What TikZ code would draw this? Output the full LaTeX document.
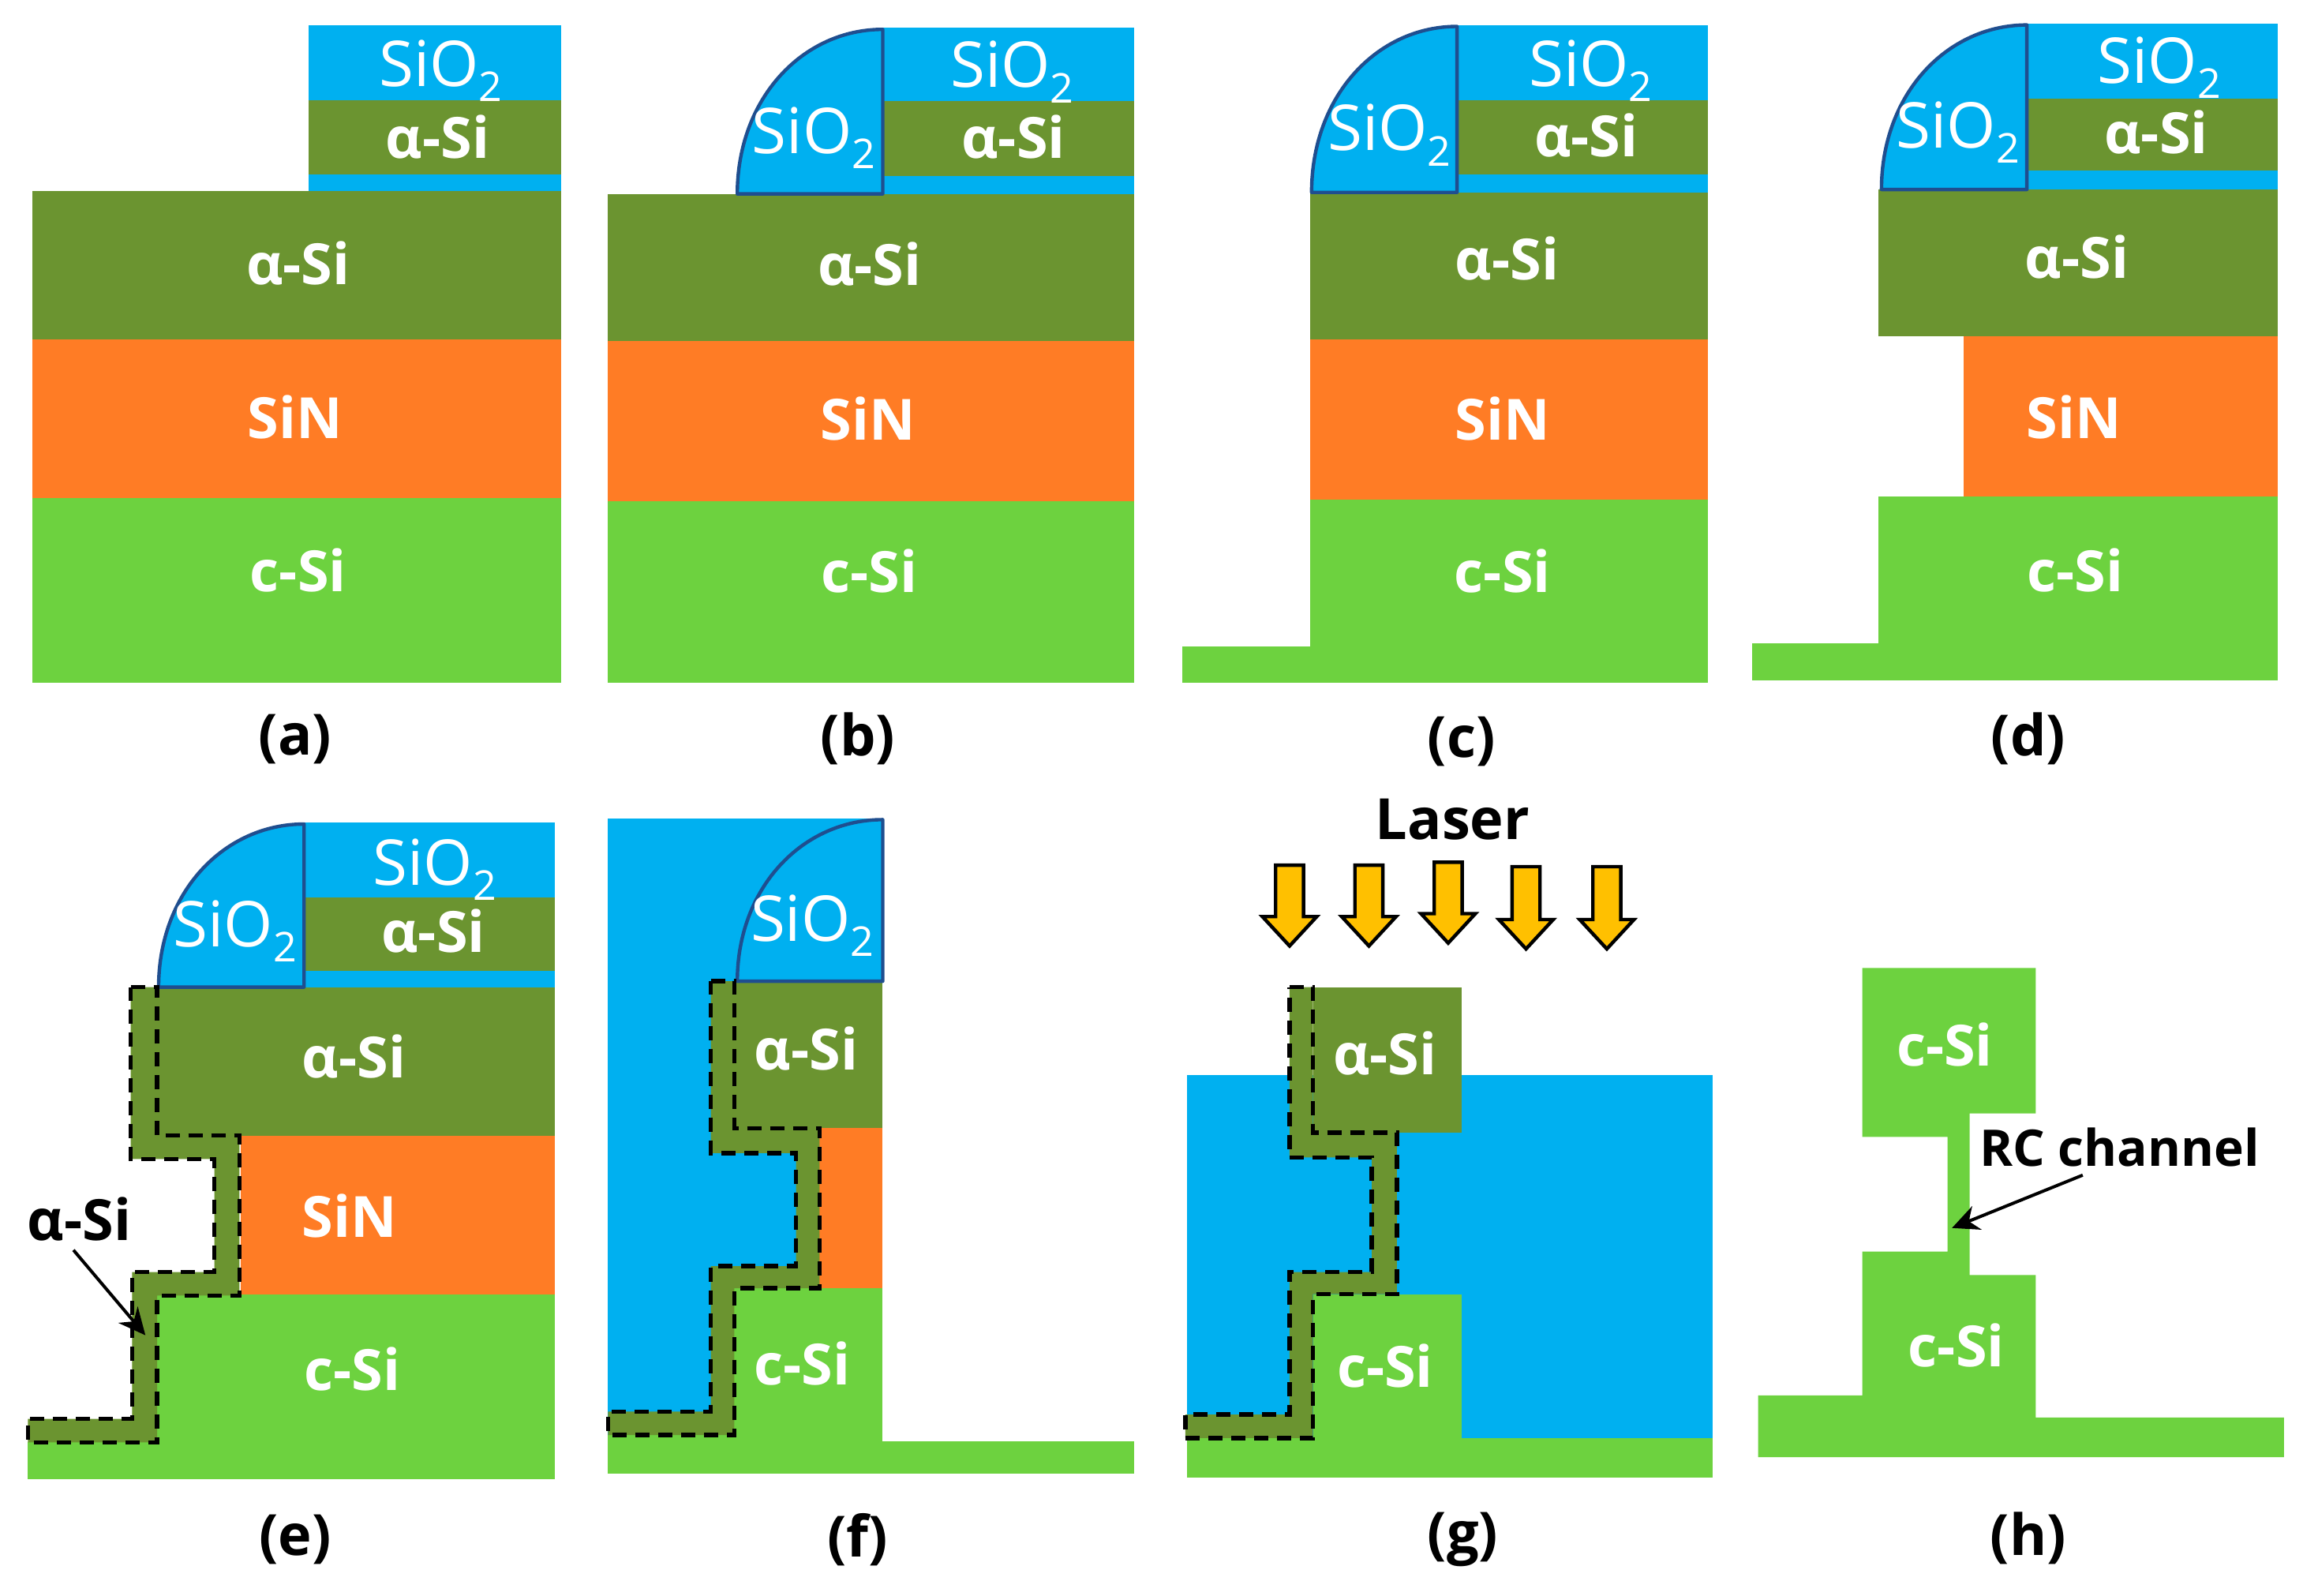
\documentclass[tikz,border=0pt]{standalone}
\usepackage{fontspec}
\setmainfont{Open Sans}
\usetikzlibrary{arrows.meta}
\definecolor{cSiO}{HTML}{00B0F0}
\definecolor{cASi}{HTML}{6B9430}
\definecolor{cSiN}{HTML}{FF7C25}
\definecolor{cCSi}{HTML}{6DD23F}
\definecolor{cEdge}{HTML}{1F4E8F}
\definecolor{cLaser}{HTML}{FFC000}
\newcommand{\sioo}{SiO\raisebox{-0.24em}{\fontsize{52}{52}\selectfont 2}}
\newcommand{\spacerat}[4]{% left x, bottom y, right x, top y
  \draw[spacerline,fill=cSiO] (#1,#2) .. controls (#1,{#2-0.58*(#2-#4)}) and ({#3-0.55*(#3-#1)},#4) .. (#3,#4) -- (#3,#2) -- cycle;}
\newcommand{\laserarrow}[3]{% x, top y, tip y
  \draw[laserarrowstyle] ({#1-9.5},#2) -- ({#1+9.5},#2) -- ({#1+9.5},{#3-20}) -- ({#1+18.5},{#3-20}) -- (#1,#3) -- ({#1-18.5},{#3-20}) -- ({#1-9.5},{#3-20}) -- cycle;}
\tikzset{
  siolayer/.style={fill=cSiO},
  asilayer/.style={fill=cASi},
  sinlayer/.style={fill=cSiN},
  csilayer/.style={fill=cCSi},
  spacerline/.style={draw=cEdge,line width=4.4pt,line join=round},
  filmline/.style={fill=cASi,draw=black,line width=5.4pt,dash pattern=on 18pt off 11pt},
  laserarrowstyle/.style={fill=cLaser,draw=black,line width=4.4pt,line join=miter},
  whitelbl/.style={text=white,inner sep=0pt,font=\fontsize{72}{80}\selectfont\bfseries},
  sioxlbl/.style={text=white,inner sep=0pt,font=\fontsize{80}{80}\selectfont},
  blacklbl/.style={text=black,inner sep=0pt,font=\fontsize{72}{80}\selectfont\bfseries},
  pointer/.style={draw=black,line width=4pt,-{Stealth[length=34pt,width=32pt]}},
}
\begin{document}
\begin{tikzpicture}[x=1.86097pt,y=-1.86097pt]
\useasboundingbox (0,0) rectangle (1568,1086.5);
% ---------- (a)
\fill[csilayer] (22,339) rectangle (382,465);
\fill[sinlayer] (22,231) rectangle (382,339);
\fill[asilayer] (22,130) rectangle (382,231);
\fill[siolayer] (210,17) rectangle (382,130);
\fill[asilayer] (210,68) rectangle (382,119);
\node[sioxlbl] (a1) at (300,48) {\sioo};
\node[whitelbl] (a2) at (298,93) {α-Si};
\node[whitelbl] (a3) at (203,179) {α-Si};
\node[whitelbl] (a4) at (201,284) {SiN};
\node[whitelbl] (a5) at (203,388) {c-Si};
\node[blacklbl] (acap) at (201,503) {(a)};
% ---------- (b)
\fill[csilayer] (414,341) rectangle (772,465);
\fill[sinlayer] (414,232) rectangle (772,341);
\fill[asilayer] (414,132) rectangle (772,232);
\fill[siolayer] (601,19) rectangle (772,132);
\fill[asilayer] (601,69) rectangle (772,120);
\spacerat{502}{132}{601}{20}
\node[sioxlbl] (b1) at (689,49) {\sioo};
\node[whitelbl] (b2) at (690,93) {α-Si};
\node[sioxlbl] (b3) at (554,94) {\sioo};
\node[whitelbl] (b4) at (592,180) {α-Si};
\node[whitelbl] (b5) at (591,285) {SiN};
\node[whitelbl] (b6) at (592,389) {c-Si};
\node[blacklbl] (bcap) at (584,503) {(b)};
% ---------- (c)
\fill[csilayer] (805,440) rectangle (892,465);
\fill[csilayer] (892,340) rectangle (1163,465);
\fill[sinlayer] (892,231) rectangle (1163,340);
\fill[asilayer] (892,131) rectangle (1163,231);
\fill[siolayer] (992,17) rectangle (1163,131);
\fill[asilayer] (992,68) rectangle (1163,119);
\spacerat{893}{131}{992}{18}
\node[sioxlbl] (c1) at (1083,48) {\sioo};
\node[whitelbl] (c2) at (1080,92) {α-Si};
\node[sioxlbl] (c3) at (946,92) {\sioo};
\node[whitelbl] (c4) at (1026,176) {α-Si};
\node[whitelbl] (c5) at (1023,285) {SiN};
\node[whitelbl] (c6) at (1023,389) {c-Si};
\node[blacklbl] (ccap) at (995,505) {(c)};
% ---------- (d)
\fill[csilayer] (1193,438) rectangle (1279,463);
\fill[csilayer] (1279,338) rectangle (1551,463);
\fill[sinlayer] (1337,229) rectangle (1551,338);
\fill[asilayer] (1279,129) rectangle (1551,229);
\fill[siolayer] (1380,16) rectangle (1551,129);
\fill[asilayer] (1380,67) rectangle (1551,116);
\spacerat{1281}{129}{1380}{17}
\node[sioxlbl] (d1) at (1470,46) {\sioo};
\node[whitelbl] (d2) at (1468,90) {α-Si};
\node[sioxlbl] (d3) at (1333,90) {\sioo};
\node[whitelbl] (d4) at (1414,175) {α-Si};
\node[whitelbl] (d5) at (1412,284) {SiN};
\node[whitelbl] (d6) at (1413,388) {c-Si};
\node[blacklbl] (dcap) at (1381,503) {(d)};
% ---------- (e)
\fill[csilayer] (19,982) rectangle (378,1007);
\fill[csilayer] (107,881) rectangle (378,1007);
\fill[sinlayer] (164,773) rectangle (378,881);
\fill[asilayer] (107,672) rectangle (378,773);
\fill[siolayer] (207,560) rectangle (378,672);
\fill[asilayer] (207,611) rectangle (378,661);
\spacerat{108}{672}{207}{561}
\draw[filmline] (89,672) -- (107,672) -- (107,773) -- (163,773) -- (163,882) -- (107,882) -- (107,982) -- (19,982) -- (19,966) -- (90,966) -- (90,866) -- (146,866) -- (146,789) -- (89,789) -- cycle;
\node[sioxlbl] (e1) at (296,592) {\sioo};
\node[whitelbl] (e2) at (295,634) {α-Si};
\node[sioxlbl] (e3) at (160,634) {\sioo};
\node[whitelbl] (e4) at (241,719) {α-Si};
\node[whitelbl] (e5) at (238,828) {SiN};
\node[whitelbl] (e6) at (240,932) {c-Si};
\node[blacklbl] (elbl) at (54,830) {α-Si};
\node[blacklbl] (ecap) at (201,1048) {(e)};
\coordinate (eFrom) at (50,851);
\coordinate (eTo) at (99,909);
\draw[pointer] (eFrom) -- (eTo);
% ---------- (f)
\fill[siolayer] (414,557) rectangle (601,668);
\fill[siolayer] (414,668) rectangle (558,978);
\fill[csilayer] (414,981) rectangle (772,1003);
\fill[csilayer] (499,877) rectangle (601,1003);
\fill[csilayer] (414,977) rectangle (499,1003);
\fill[sinlayer] (558,768) rectangle (601,877);
\fill[asilayer] (499,668) rectangle (601,768);
\spacerat{502}{668}{601}{558}
\draw[filmline] (484,668) -- (500,668) -- (500,768) -- (558,768) -- (558,877) -- (500,877) -- (500,977) -- (414,977) -- (414,961) -- (484,961) -- (484,862) -- (542,862) -- (542,785) -- (484,785) -- cycle;
\node[sioxlbl] (f1) at (553,630) {\sioo};
\node[whitelbl] (f2) at (549,714) {α-Si};
\node[whitelbl] (f3) at (546,928) {c-Si};
\node[blacklbl] (fcap) at (584,1048) {(f)};
% ---------- (g)
\fill[siolayer] (808,732) rectangle (1166,980);
\fill[csilayer] (808,979) rectangle (1166,1006);
\fill[csilayer] (894,881) rectangle (995,1006);
\fill[asilayer] (894,672) rectangle (995,771);
\draw[filmline] (878,672) -- (894,672) -- (894,771) -- (951,771) -- (951,881) -- (894,881) -- (894,979) -- (807,979) -- (807,963) -- (878,963) -- (878,866) -- (934,866) -- (934,788) -- (878,788) -- cycle;
\node[whitelbl] (g1) at (943,717) {α-Si};
\node[whitelbl] (g2) at (943,930) {c-Si};
\node[blacklbl] (glaser) at (989,558) {Laser};
\node[blacklbl] (gcap) at (996,1048) {(g)};
\laserarrow{878}{589}{644}
\laserarrow{932}{589}{644}
\laserarrow{986}{587}{642}
\laserarrow{1039}{590}{646}
\laserarrow{1094}{590}{646}
% ---------- (h)
\fill[csilayer] (1268,659) -- (1386,659) -- (1386,758) -- (1341,758) -- (1341,868) -- (1386,868) -- (1386,965) -- (1555,965) -- (1555,992) -- (1197,992) -- (1197,950) -- (1268,950) -- (1268,852) -- (1326,852) -- (1326,774) -- (1268,774) -- cycle;
\node[whitelbl] (h1) at (1324,711) {c-Si};
\node[whitelbl] (h2) at (1332,916) {c-Si};
\node[blacklbl,font=\fontsize{64}{70}\selectfont\bfseries] (hlbl) at (1443,781) {RC channel};
\node[blacklbl] (hcap) at (1381,1047) {(h)};
\coordinate (hFrom) at (1418,800);
\coordinate (hTo) at (1329,836);
\draw[pointer] (hFrom) -- (hTo);
\end{tikzpicture}
\end{document}
